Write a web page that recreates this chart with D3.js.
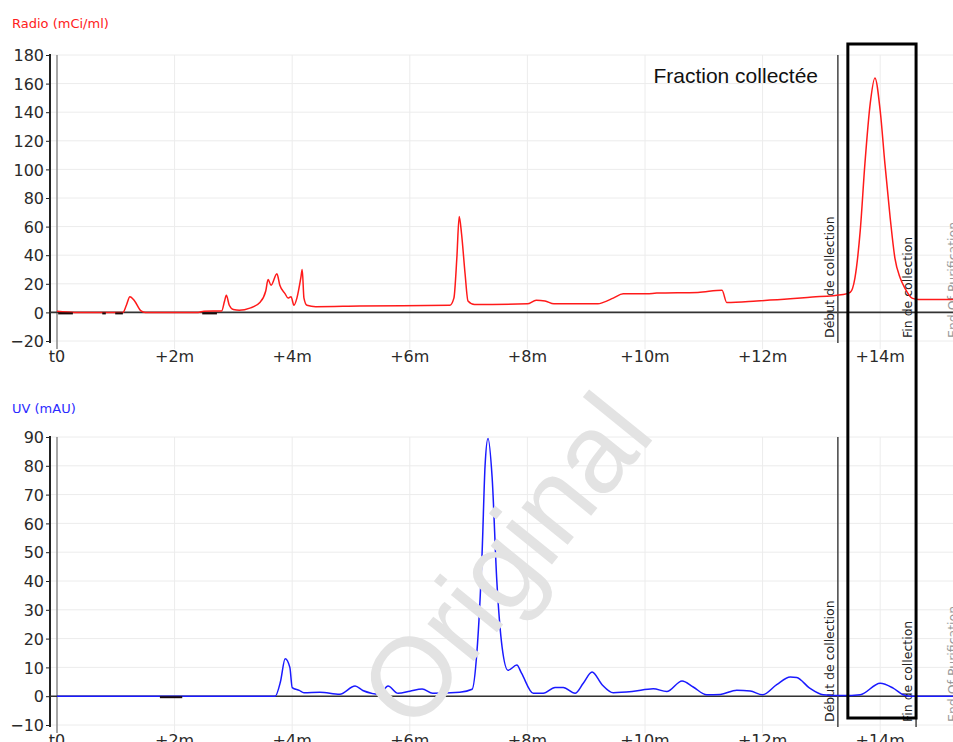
<!DOCTYPE html>
<html lang="fr">
<head>
<meta charset="UTF-8">
<title>Radio / UV</title>
<script src="https://d3js.org/d3.v7.min.js"></script>
<style>
  body { margin: 0; background: #fff; }
  text { font-family: "DejaVu Sans", Verdana, sans-serif; }
</style>
</head>
<body>
<script>
// time axis (minutes)
var xTicks = [0, 2, 4, 6, 8, 10, 12, 14];
var xTickLabels = ["t0", "+2m", "+4m", "+6m", "+8m", "+10m", "+12m", "+14m"];

// radio trace (mCi/ml)
var radioTicks = [-20, 0, 20, 40, 60, 80, 100, 120, 140, 160, 180];
var radioTime = [0, 0.3, 1.12, 1.18, 1.24, 1.32, 1.43, 1.5, 2.4, 2.5, 2.8, 2.85, 2.88, 2.93, 3.0, 3.1,
  3.28, 3.45, 3.55, 3.59, 3.64, 3.74, 3.79, 3.88, 3.93, 3.98, 4.03, 4.08, 4.15, 4.17, 4.2, 4.25, 4.4,
  5.15, 6.68, 6.75, 6.8, 6.84, 6.88, 6.94, 6.99, 7.1, 8.0, 8.15, 8.3, 8.45, 8.89, 9.2, 9.29, 9.46, 9.63,
  10.03, 10.2, 10.9, 11.31, 11.39, 11.9, 12.47, 12.76, 13.37, 13.49, 13.57, 13.66, 13.74, 13.83, 13.91,
  14.0, 14.08, 14.17, 14.25, 14.34, 14.42, 14.54, 14.65, 15.4];
var radioValue = [0.8, 0, 0, 5, 11, 8, 1, 0, 0, 0.8, 1, 8, 12, 5, 2, 1.5,
  3, 7, 15, 23, 19, 27, 19, 13, 10, 11, 5, 10, 25, 30, 10, 5, 4,
  4.5, 5, 10, 38, 67, 55, 27, 8, 5.5, 6, 8.5, 8, 6, 6, 6, 7, 10, 13,
  13, 13.5, 14, 15.5, 7, 8, 9.5, 10.5, 12.5, 14, 24, 57, 104, 146, 164,
  141, 104, 66, 38, 24, 17, 10, 9, 9];
// short dark dips below the zero line
var radioDips = [[0.02, 0.27], [0.77, 0.83], [0.99, 1.12], [2.47, 2.72]];

// UV trace (mAU)
var uvTicks = [-10, 0, 10, 20, 30, 40, 50, 60, 70, 80, 90];
var uvTime = [0, 3.71, 3.8, 3.88, 3.96, 4.0, 4.12, 4.2, 4.47, 4.81, 5.07, 5.2, 5.49, 5.63, 5.8, 6.0,
  6.21, 6.39, 6.85, 7.06, 7.14, 7.23, 7.28, 7.33, 7.4, 7.48, 7.57, 7.67, 7.82, 7.9, 8.1, 8.27, 8.47,
  8.61, 8.81, 8.95, 9.1, 9.27, 9.46, 9.78, 10.14, 10.37, 10.63, 10.82, 11.05, 11.28, 11.56, 11.79,
  12.0, 12.24, 12.47, 12.58, 12.8, 13.03, 13.37, 13.66, 14.0, 14.22, 14.39, 14.5, 15.4];
var uvValue = [0, 0, 5, 13, 10, 3, 2, 1.2, 1.4, 0.7, 3.5, 2, 0.7, 3.5, 1, 1.7,
  2.5, 1, 1.4, 2.4, 15, 50, 80, 89.5, 76, 40, 17, 9, 10.8, 8, 1, 1, 3,
  3, 1, 4.5, 8.4, 4, 1.2, 1.6, 2.6, 1.6, 5.3, 3.2, 0.5, 0.6, 2.1, 1.8,
  0.5, 4, 6.7, 6.5, 2.8, 0.5, 0.2, 0.5, 4.5, 2.8, 0.5, 0, 0];
var uvDips = [[1.75, 2.13]];

// event markers
var markerNames = ["Début de collection", "Fin de collection", "End Of Purification"];
var markerTimes = [13.28, 14.61, 15.38];
var markerColors = ["#444", "#444", "#aaa"];
var markerTextColors = ["#222", "#222", "#999"];

// collected fraction box
var fractionStart = 13.45, fractionEnd = 14.61;

var width = 953, height = 742;
var svg = d3.select("body").append("svg")
    .attr("width", width)
    .attr("height", height);

var x = d3.scaleLinear().domain([0, 16]).range([57, 57 + 58.8 * 16]);

var panels = [
  { title: "Radio (mCi/ml)", titleColor: "#ff2020", titleY: 28, lineColor: "#ff1a1a",
    ticks: radioTicks, time: radioTime, value: radioValue, dips: radioDips,
    y: d3.scaleLinear().domain([-20, 180]).range([341, 55]) },
  { title: "UV (mAU)", titleColor: "#2b2bff", titleY: 413, lineColor: "#1a1aff",
    ticks: uvTicks, time: uvTime, value: uvValue, dips: uvDips,
    y: d3.scaleLinear().domain([-10, 90]).range([725, 437]) }
];

svg.append("defs").append("clipPath").attr("id", "clip")
  .append("rect").attr("x", 50).attr("y", 0).attr("width", width).attr("height", height);

panels.forEach(function (p, i) {
  var y = p.y;
  var top = y.range()[1], bottom = y.range()[0];
  var axisX = x(0) - 7;
  var g = svg.append("g");

  // title
  g.append("text")
    .attr("x", 12).attr("y", p.titleY)
    .attr("fill", p.titleColor)
    .style("font-size", "13px")
    .text(p.title);

  // gridlines
  g.selectAll(".hgrid").data(p.ticks).enter().append("line")
    .attr("x1", axisX).attr("x2", width)
    .attr("y1", function (d) { return y(d); })
    .attr("y2", function (d) { return y(d); })
    .attr("stroke", "#ececec").attr("stroke-width", 1);
  g.selectAll(".vgrid").data(xTicks).enter().append("line")
    .attr("x1", function (d) { return x(d); })
    .attr("x2", function (d) { return x(d); })
    .attr("y1", top).attr("y2", bottom + 8)
    .attr("stroke", function (d) { return d === 0 ? "#8a8a8a" : "#ececec"; })
    .attr("stroke-width", function (d) { return d === 0 ? 1.5 : 1; });

  // watermark, behind the UV trace
  if (i === 1) {
    svg.append("text")
      .attr("transform", "translate(505,560) rotate(-51)")
      .attr("text-anchor", "middle")
      .attr("dy", "0.35em")
      .style("font-family", "'Liberation Sans', Arial, sans-serif")
      .style("font-size", "112px")
      .attr("fill", "#e3e3e3")
      .text("Original");
  }

  // y axis
  var yAxis = d3.axisLeft(y).tickValues(p.ticks).tickSize(4).tickPadding(2);
  var ya = g.append("g").attr("transform", "translate(" + axisX + ",0)").call(yAxis);
  ya.select(".domain").attr("stroke", "#222").attr("stroke-width", 2)
    .attr("d", "M0," + (top - 1) + "V" + (bottom + 2));
  ya.selectAll(".tick line").attr("stroke", "#222");
  ya.selectAll(".tick text").attr("fill", "#2a2a2a")
    .style("font-size", "16px").attr("dy", "0.36em");

  // x tick labels
  g.selectAll(".xlab").data(xTicks).enter().append("text")
    .attr("x", function (d) { return x(d); })
    .attr("y", bottom + 21)
    .attr("text-anchor", "middle")
    .attr("fill", "#2a2a2a")
    .style("font-size", "16px")
    .text(function (d, j) { return xTickLabels[j]; });

  // zero line
  g.append("line")
    .attr("x1", axisX).attr("x2", width)
    .attr("y1", y(0)).attr("y2", y(0))
    .attr("stroke", "#333").attr("stroke-width", 1.6);

  // markers
  markerTimes.forEach(function (t, k) {
    g.append("line")
      .attr("x1", x(t)).attr("x2", x(t))
      .attr("y1", top).attr("y2", bottom + 2)
      .attr("stroke", markerColors[k]).attr("stroke-width", 1.5);
    g.append("text")
      .attr("transform", "translate(" + (x(t) - 4) + "," + (bottom - 3) + ") rotate(-90)")
      .attr("fill", markerTextColors[k])
      .style("font-size", "12.5px")
      .text(markerNames[k]);
  });

  // trace
  var pts = p.time.map(function (t, j) { return [t, p.value[j]]; });
  var line = d3.line()
    .curve(d3.curveMonotoneX)
    .x(function (d) { return x(d[0]); })
    .y(function (d) { return y(d[1]); });
  g.append("path")
    .datum(pts)
    .attr("clip-path", "url(#clip)")
    .attr("d", line)
    .attr("fill", "none")
    .attr("stroke", p.lineColor)
    .attr("stroke-width", 1.5)
    .attr("stroke-linejoin", "round");

  g.selectAll(".dip").data(p.dips).enter().append("line")
    .attr("x1", function (d) { return x(d[0]); })
    .attr("x2", function (d) { return x(d[1]); })
    .attr("y1", y(0) + 1).attr("y2", y(0) + 1)
    .attr("stroke", "#1a0a0a").attr("stroke-width", 2);
});

// collected fraction annotation
svg.append("rect")
  .attr("x", x(fractionStart)).attr("y", 44)
  .attr("width", x(fractionEnd) - x(fractionStart)).attr("height", 674)
  .attr("fill", "none").attr("stroke", "#000").attr("stroke-width", 3);

svg.append("text")
  .attr("x", 818).attr("y", 83)
  .attr("text-anchor", "end")
  .style("font-family", "'Liberation Sans', Arial, sans-serif")
  .style("font-size", "21px")
  .attr("fill", "#111")
  .text("Fraction collectée");
</script>
</body>
</html>
